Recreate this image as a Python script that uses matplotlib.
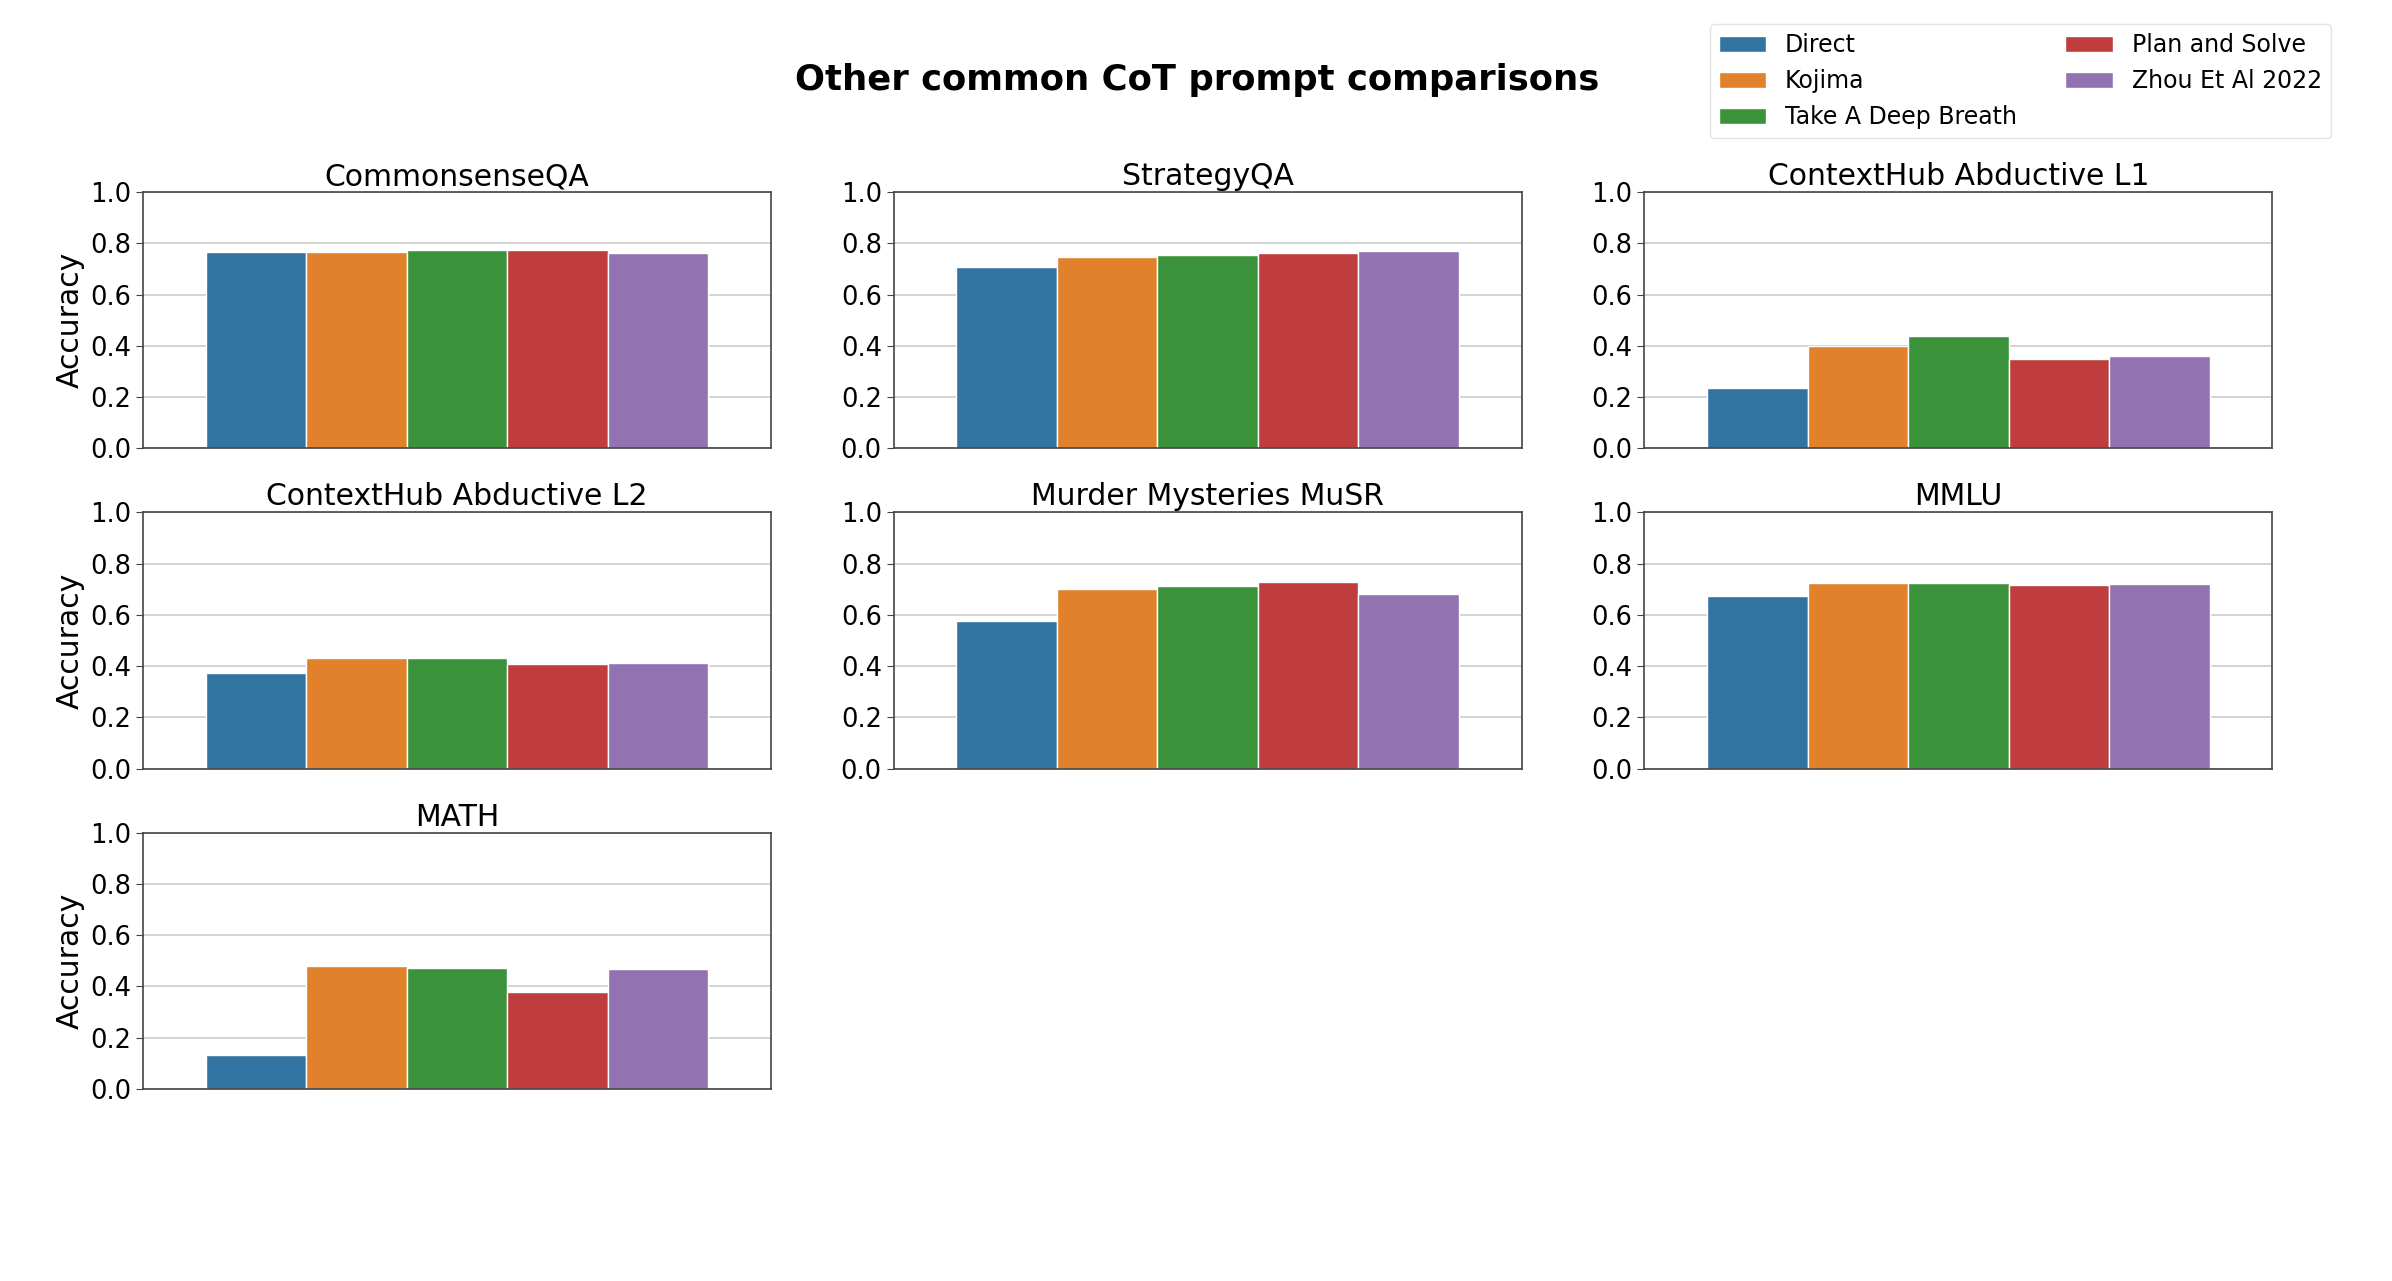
import matplotlib
matplotlib.use("Agg")
import matplotlib.pyplot as plt
import numpy as np

datasets = ["CommonsenseQA", "StrategyQA", "ContextHub Abductive L1",
            "ContextHub Abductive L2", "Murder Mysteries MuSR", "MMLU", "MATH"]
methods = ["Direct", "Kojima", "Take A Deep Breath", "Plan and Solve", "Zhou Et Al 2022"]

direct = [0.767, 0.707, 0.237, 0.374, 0.577, 0.673, 0.133]
kojima = [0.767, 0.747, 0.400, 0.431, 0.700, 0.723, 0.479]
deep_breath = [0.775, 0.754, 0.437, 0.431, 0.714, 0.723, 0.473]
plan_solve = [0.775, 0.763, 0.350, 0.409, 0.730, 0.716, 0.379]
zhou = [0.764, 0.771, 0.359, 0.411, 0.681, 0.720, 0.466]

series = [direct, kojima, deep_breath, plan_solve, zhou]
colors = ["#3274a1", "#e1812c", "#3a923a", "#c03d3e", "#9372b2"]

plt.rcParams['font.family'] = ['DejaVu Sans']

fig = plt.figure(figsize=(23.92, 12.81), dpi=100)
gs = fig.add_gridspec(3, 3, left=0.0598, right=0.9500, top=0.850, bottom=0.150,
                      wspace=0.195, hspace=0.25)

bw = 0.16
handles = None
for k, name in enumerate(datasets):
    r, c = divmod(k, 3)
    ax = fig.add_subplot(gs[r, c])
    ax.set_axisbelow(True)
    ax.yaxis.grid(True, color="#cccccc", linewidth=1.2)
    bars = []
    for i, (vals, col) in enumerate(zip(series, colors)):
        b = ax.bar((i - 2) * bw, vals[k], width=bw, color=col,
                   edgecolor="white", linewidth=1.0, label=methods[i])
        bars.append(b)
    if handles is None:
        handles = bars
    ax.set_xlim(-0.5, 0.5)
    ax.set_ylim(0, 1.0)
    ax.set_yticks(np.arange(0, 1.01, 0.2))
    ax.set_yticklabels([f"{v:.1f}" for v in np.arange(0, 1.01, 0.2)])
    ax.set_xticks([])
    ax.tick_params(axis='y', labelsize=18.5, length=5, color="#444444")
    for s in ax.spines.values():
        s.set_color("#444444")
        s.set_linewidth(1.2)
    ax.set_title(name, fontsize=21.5, pad=5)
    if c == 0:
        ax.set_ylabel("Accuracy", fontsize=21.5)

fig.suptitle("Other common CoT prompt comparisons", fontsize=25.5,
             fontweight="bold", x=0.5005, y=0.9375, va="center")
leg = fig.legend(handles, methods, ncol=2, loc="upper right",
                 bbox_to_anchor=(0.9795, 0.9905), fontsize=17,
                 frameon=True, columnspacing=2.05)
leg.get_frame().set_edgecolor("#dddddd")

fig.savefig("out.png", dpi=100)
